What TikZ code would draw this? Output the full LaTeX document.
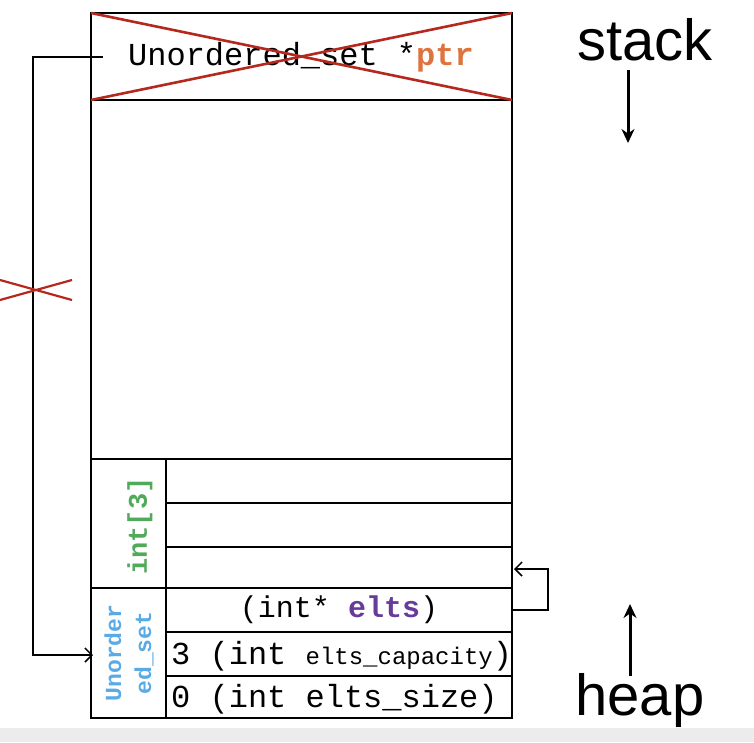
\documentclass[tikz,border=0pt]{standalone}
\usetikzlibrary{arrows.meta}
\usepackage{fontspec}
\setmainfont{Liberation Sans}
\setmonofont{Liberation Mono}
\begin{document}
\begin{tikzpicture}[x=1pt,y=-1pt,
  cell/.style={draw,line width=2.4pt},
  mono/.style={font=\ttfamily\fontsize{32}{34}\selectfont},
  cross/.style={draw={rgb,255:red,180;green,40;blue,30},line width=2.6pt},
  wire/.style={line width=1.5pt,-{Straight Barb[length=7pt,width=14pt]}},
  big/.style={-{Stealth[length=14pt,width=13pt]},line width=3pt}]
\useasboundingbox (0,0) rectangle (754,742);
\fill[gray!15] (0,728) rectangle (754,742);
\draw[line width=1.6pt] (91,13) rectangle (512,718);
\draw[line width=1.6pt] (91,100) -- (512,100);
\node[mono] (ptr) at (301,57) {Unordered\_set *\textcolor[rgb]{0.87,0.45,0.24}{\textbf{ptr}}};
\draw[cross] (91,13) -- (512,100);
\draw[cross] (91,100) -- (512,13);
\draw[cell] (91,459) rectangle (512,588);
\draw[cell] (166,459) -- (166,718);
\draw[cell] (166,503) -- (512,503);
\draw[cell] (166,547) -- (512,547);
\draw[cell] (91,588) rectangle (512,718);
\draw[line width=1.6pt] (166,632) -- (512,632) (166,676) -- (512,676);
\node[font=\ttfamily\bfseries\fontsize{27}{30}\selectfont,text={rgb,255:red,80;green,170;blue,90},rotate=90] (arr) at (140,526) {int[3]};
\node[font=\ttfamily\bfseries\fontsize{23}{30}\selectfont,text={rgb,255:red,90;green,170;blue,230},rotate=90,align=center] (us) at (129,653) {Unorder\\ed\_set};
\node[mono,font=\ttfamily\fontsize{30}{32}\selectfont] (elts) at (339,610) {(int* \textcolor[rgb]{0.4,0.23,0.6}{\textbf{elts}})};
\node[mono,anchor=west,inner sep=0] (cap) at (171,656) {3 (int {\fontsize{24}{26}\selectfont elts\_capacity})};
\node[mono,anchor=west,inner sep=0] (size) at (171,699) {0 (int elts\_size)};
\coordinate (w0) at (103,57);
\coordinate (w1) at (33,57);
\coordinate (w2) at (33,655);
\coordinate (wt) at (93,655);
\draw[wire] (w0) -- (w1) -- (w2) -- (wt);
\draw[cross,line width=2.2pt] (0,280) -- (72,300) (0,300) -- (72,280);
\coordinate (r0) at (512,610);
\coordinate (r1) at (548,610);
\coordinate (r2) at (548,569);
\coordinate (rt) at (514,569);
\draw[wire] (r0) -- (r1) -- (r2) -- (rt);
\node[font=\fontsize{58}{60}\selectfont] (stack) at (645,40) {stack};
\node[font=\fontsize{58}{60}\selectfont] (heap) at (640,700) {heap};
\coordinate (s1) at (628,70);
\coordinate (s2) at (628,143);
\draw[big] (s1) -- (s2);
\coordinate (h1) at (630,676);
\coordinate (h2) at (630,604);
\draw[big] (h1) -- (h2);
\end{tikzpicture}
\end{document}
